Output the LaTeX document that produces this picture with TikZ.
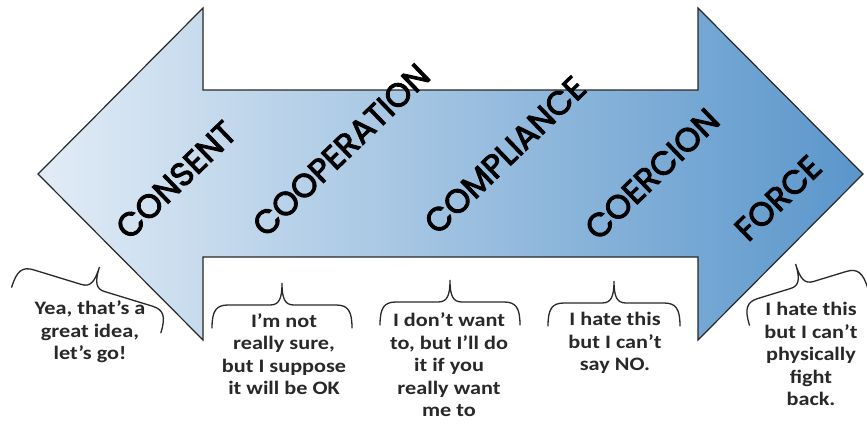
\documentclass[tikz,border=0pt]{standalone}
\usepackage{fontspec}
\setmainfont{Carlito}
\newfontfamily\gothicfont{Poppins}[FakeBold=3]
\newfontfamily\quotefont{Carlito}[FakeStretch=1.17]
\usetikzlibrary{positioning}
\definecolor{paleblue}{RGB}{226,236,246}
\definecolor{midblue}{RGB}{166,198,227}
\definecolor{deepblue}{RGB}{90,150,203}
\definecolor{ink}{RGB}{40,40,40}
\tikzset{
  stagelabel/.style={font=\gothicfont\fontsize{33}{33}\selectfont, rotate=44, inner sep=0pt, text=black},
  saying/.style={font=\quotefont\bfseries\fontsize{19}{22.5}\selectfont, align=center, text=ink, inner sep=0pt},
  pics/quip/.style={code={
    \draw[ink, line width=1.3pt, line cap=round]
      (-#1,23) .. controls (-#1,6) and (-#1+4,0) .. (-#1+16,0) -- (-12,0)
      .. controls (-3,0) and (0,-6) .. (0,-22)
      .. controls (0,-6) and (3,0) .. (12,0) -- (#1-16,0)
      .. controls (#1-4,0) and (#1,6) .. (#1,23);
  }}
}
\begin{document}
\begin{tikzpicture}[x=1pt, y=-1pt]
\fill[white] (0,0) rectangle (867,428);
\useasboundingbox (0,0) rectangle (867,428);
\coordinate (L) at (38,174);
\coordinate (R) at (863,174);
\draw[ink, line width=1.2pt, line join=miter, left color=paleblue, middle color=midblue, right color=deepblue]
  (L) -- (203,8) -- (203,90) -- (698,90) -- (698,8) -- (R) -- (698,340) -- (698,257) -- (203,257) -- (203,340) -- cycle;
\node[stagelabel] (consent) at (176,180) {CONSENT};
\node[stagelabel] (cooperation) at (341,150) {COOPERATION};
\node[stagelabel] (compliance) at (505,155) {COMPLIANCE};
\node[stagelabel] (coercion) at (652,174) {COERCION};
\node[stagelabel] (force) at (778,198) {FORCE};
\node[saying] (capA) at (90,332) {Yea, that’s a\\great idea,\\let’s go!};
\node[saying] (capB) at (284,354) {I’m not\\really sure,\\but I suppose\\it will be OK};
\node[saying] (capC) at (449,365) {I don’t want\\to, but I’ll do\\it if you\\really want\\me to};
\node[saying] (capD) at (615,343) {I hate this\\but I can’t\\say NO.};
\node[saying] (capE) at (811,354) {I hate this\\but I can’t\\physically\\fight\\back.};
\pic[rotate=-17] at (93,288) {quip=78};
\pic at (282,305) {quip=70};
\pic at (450,302) {quip=70};
\pic at (614,303) {quip=66};
\pic[rotate=17] at (802,285) {quip=62};
\end{tikzpicture}
\end{document}
